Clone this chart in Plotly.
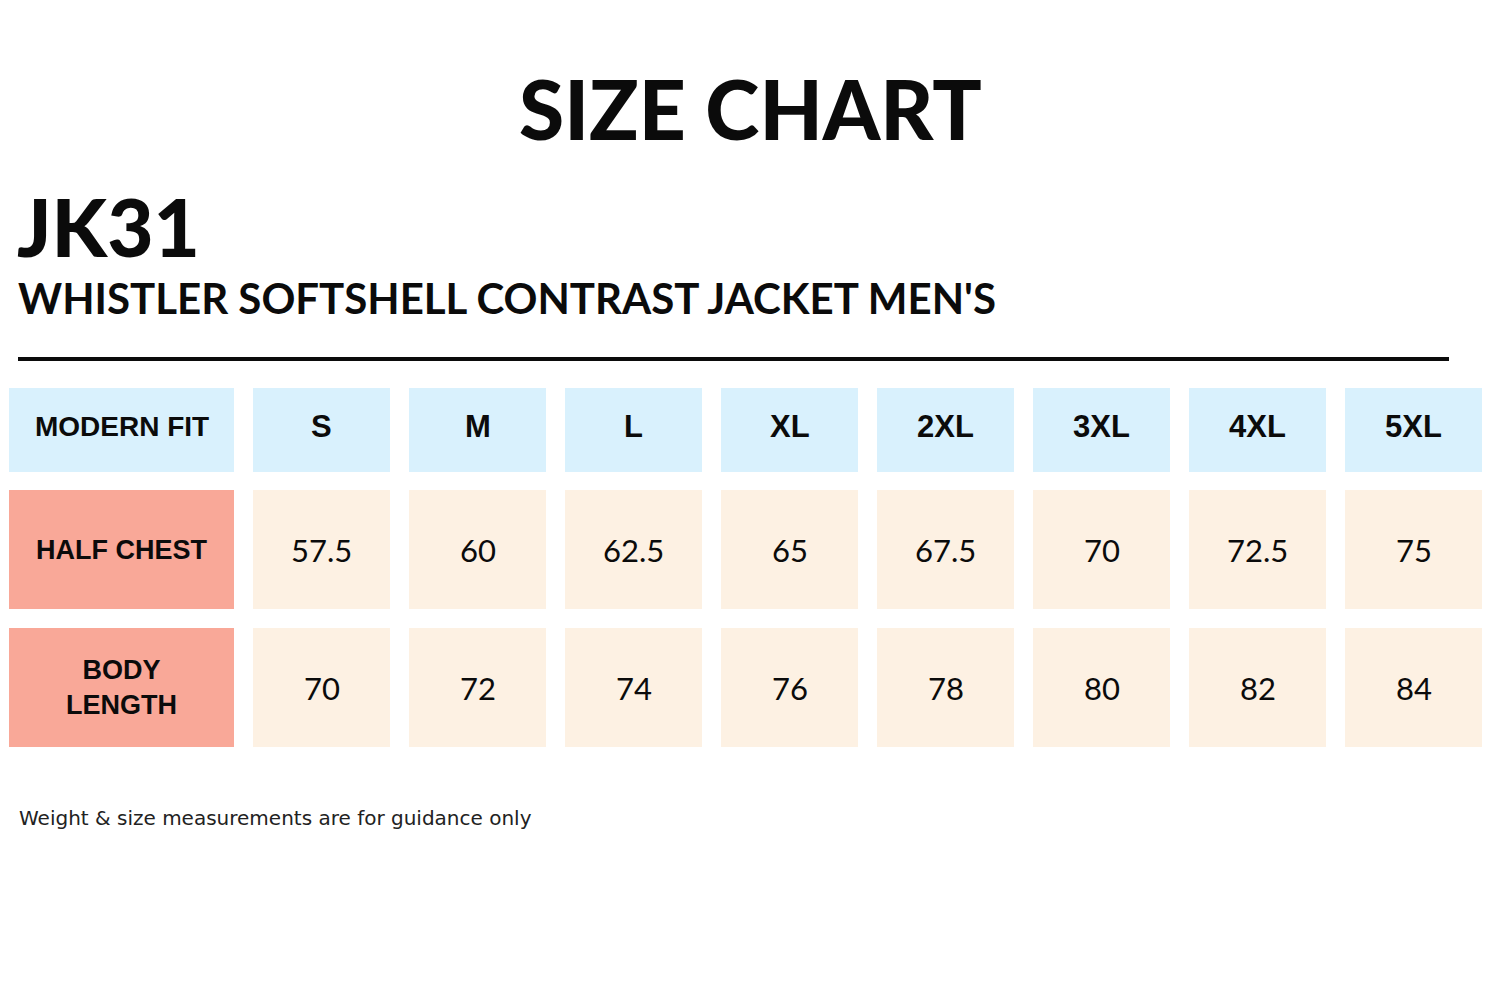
import plotly.graph_objects as go

# ---- data ----
sizes = ["S", "M", "L", "XL", "2XL", "3XL", "4XL", "5XL"]
row_labels = ["HALF CHEST", "BODY<br>LENGTH"]
half_chest = ["57.5", "60", "62.5", "65", "67.5", "70", "72.5", "75"]
body_length = ["70", "72", "74", "76", "78", "80", "82", "84"]
corner_label = "MODERN FIT"
title_text = "SIZE CHART"
code_text = "JK31"
product_text = "WHISTLER SOFTSHELL CONTRAST JACKET MEN'S"
footer_text = "Weight & size measurements are for guidance only"

# ---- layout constants (pixel coordinates on hidden axes) ----
W, H = 1500, 1000
OFF = 8  # page body margin compensation
first_col = (9, 234)
col_x0 = 253
col_w = 137
col_pitch = 156
rows_y = [(388, 472), (490, 609), (628, 747)]

BLUE = "#d9f1fd"
SALMON = "#f9a898"
CREAM = "#fdf1e3"
INK = "#0b0b0b"

fig = go.Figure()
shapes = []
annotations = []

def cell(x0, x1, y0, y1, color):
    shapes.append(dict(type="rect", xref="x", yref="y", x0=x0, x1=x1, y0=y0, y1=y1,
                       fillcolor=color, line=dict(width=0), layer="below"))

def label(x, y, text, size, family, weight="normal", color=INK, xanchor="center"):
    annotations.append(dict(x=x, y=y, xref="x", yref="y", text=text, showarrow=False,
                            xanchor=xanchor, yanchor="middle",
                            font=dict(size=size, family=family, color=color, weight=weight)))

LAB_FONT = "Liberation Sans, Arial, sans-serif"
VAL_FONT = "Lato, 'Noto Sans', sans-serif"
HEAD_FONT = "Lato, 'Noto Sans', sans-serif"

# header row
y0, y1 = rows_y[0]
cell(first_col[0], first_col[1], y0, y1, BLUE)
label((first_col[0] + first_col[1]) / 2, (y0 + y1) / 2 - 4, corner_label, 28, LAB_FONT, "bold")
for i, s in enumerate(sizes):
    x0 = col_x0 + i * col_pitch
    cell(x0, x0 + col_w, y0, y1, BLUE)
    label(x0 + col_w / 2, (y0 + y1) / 2 - 4, s, 31, LAB_FONT, "bold")

# body rows
for r, (lab, vals) in enumerate(zip(row_labels, [half_chest, body_length])):
    y0, y1 = rows_y[r + 1]
    cell(first_col[0], first_col[1], y0, y1, SALMON)
    label((first_col[0] + first_col[1]) / 2, (y0 + y1) / 2, lab, 27, LAB_FONT, "bold")
    for i, v in enumerate(vals):
        x0 = col_x0 + i * col_pitch
        cell(x0, x0 + col_w, y0, y1, CREAM)
        label(x0 + col_w / 2, (y0 + y1) / 2, v, 31, VAL_FONT, "normal")

# titles
label(750, 108, title_text, 82, HEAD_FONT, 900)
label(15, 226, code_text, 80, HEAD_FONT, 900, xanchor="left")
label(16, 298, product_text, 42, HEAD_FONT, "bold", xanchor="left")
# divider
shapes.append(dict(type="line", xref="x", yref="y", x0=18, x1=1449, y0=359, y1=359,
                   line=dict(color=INK, width=4)))
# footer
label(17, 818, footer_text, 20, "DejaVu Sans, sans-serif", "normal", color="#222222", xanchor="left")

fig.update_layout(
    width=W, height=H,
    margin=dict(l=0, r=0, t=0, b=0),
    paper_bgcolor="white", plot_bgcolor="white",
    xaxis=dict(range=[OFF, W + OFF], visible=False, fixedrange=True),
    yaxis=dict(range=[H + OFF, OFF], visible=False, fixedrange=True),
    shapes=shapes, annotations=annotations, showlegend=False,
)
fig.write_html("out.html")
